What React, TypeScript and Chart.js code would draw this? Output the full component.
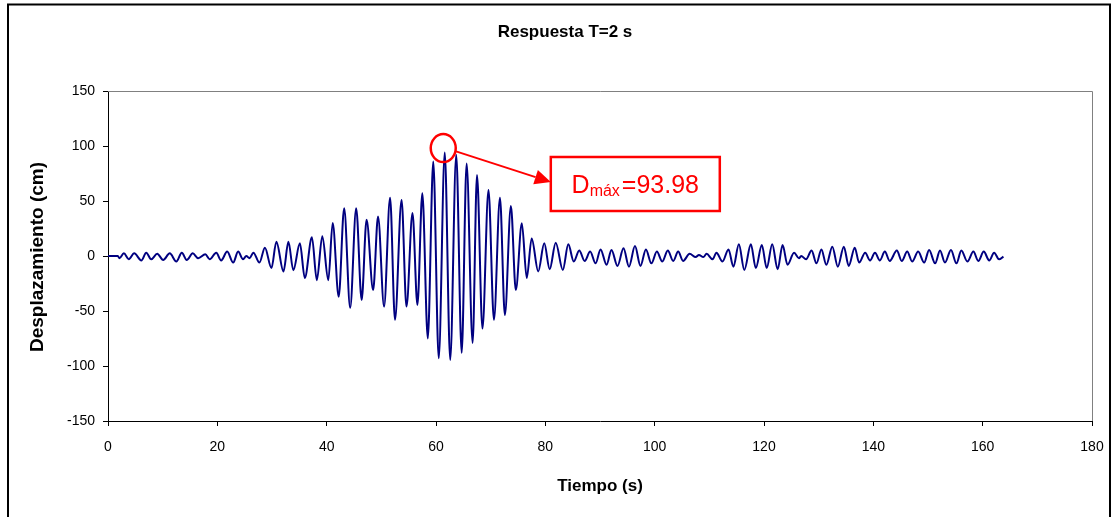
import React, { useEffect, useRef } from "react";
import { Chart, registerables } from "chart.js";

Chart.register(...registerables);

// Time (s) of each turning point
const timeS = [
  0, 1.8, 2.1, 2.9, 3.8, 4.8, 6.1, 7.0, 7.9, 9.0,
  10.1, 11.3, 12.5, 13.5, 14.4, 15.5, 16.5, 17.8, 18.6, 19.8,
  20.7, 21.8, 22.9, 23.8, 24.7, 25.3, 25.9, 26.6, 27.7, 28.7,
  29.9, 30.8, 32.1, 33.0, 33.9, 35.1, 36.0, 37.3, 38.2, 39.2,
  40.3, 41.1, 42.2, 43.2, 44.3, 45.4, 46.4, 47.3, 48.5, 49.4,
  50.5, 51.6, 52.5, 53.7, 54.6, 55.7, 56.6, 57.5, 58.5, 59.5,
  60.5, 61.6, 62.6, 63.7, 64.7, 65.6, 66.7, 67.5, 68.5, 69.6,
  70.6, 71.7, 72.6, 73.7, 74.6, 75.7, 76.6, 77.5, 78.7, 79.8,
  80.8, 81.9, 83.2, 84.2, 85.2, 86.2, 87.2, 88.2, 89.2, 90.1,
  91.2, 92.1, 93.2, 94.3, 95.3, 96.4, 97.4, 98.4, 99.4, 100.4,
  101.4, 102.4, 103.4, 104.3, 105.2, 106.4, 107.5, 108.1, 108.9, 109.5,
  110.6, 111.3, 112.4, 113.5, 114.4, 115.4, 116.4, 117.6, 118.5, 119.6,
  120.5, 121.5, 122.5, 123.4, 124.3, 125.5, 126.4, 126.8, 127.7, 128.7,
  129.6, 130.5, 131.4, 132.5, 133.5, 134.6, 135.5, 136.6, 137.4, 138.5,
  139.4, 140.3, 141.2, 142.1, 143.0, 144.3, 145.2, 146.2, 147.1, 148.2,
  149.3, 150.2, 151.3, 152.2, 153.1, 154.2, 155.2, 156.1, 157.2, 158.3,
  159.2, 160.2, 161.2, 162.1, 163.0, 163.8,
];

// Displacement (cm) at those times
const dispCm = [
  0, 0, -2, 2.4, -3, 2.4, -4, 3, -3, 2,
  -3.6, 2.4, -5, 3, -3.6, 2.4, -2, 1.5, -3, 3,
  -4, 4, -6, 4, -3, 0, -2, 3, -6, 7.6,
  -11, 13, -14, 13, -13, 11.5, -20, 17, -22, 18,
  -22, 30, -37, 43.5, -47, 43.5, -40, 33, -31, 36,
  -46, 53, -58, 51, -46, 39, -44.5, 57, -75, 86,
  -93, 93.98, -94.5, 92, -88, 84, -79, 73.6, -66, 60,
  -58, 53, -53.6, 45.5, -31, 29.7, -20, 16, -14, 11.5,
  -12, 12, -12.7, 10.6, -5, 5, -4.5, 4, -6.7, 6,
  -8, 5.5, -9, 7, -9.7, 9, -9, 6, -6.7, 4,
  -5, 5, -4.5, 4, -4.5, 2, -1, 1, -1, 2,
  -3, 3, -5, 6, -9.7, 10.6, -12.7, 10.6, -11, 10,
  -11, 10.6, -12, 10, -8, 3, -2, 0, -3, 5,
  -6.7, 6, -8, 8.5, -9.7, 8.5, -9, 7.6, -6, 3,
  -4, 3, -4, 4, -4.5, 5, -4.5, 4, -5, 4,
  -6, 5.5, -6.7, 5, -6, 5.5, -6.7, 5, -5, 4,
  -4.5, 4, -4, 3, -3, -0.5,
];

const chartTitle = "Respuesta T=2 s";
const xTitle = "Tiempo (s)";
const yTitle = "Desplazamiento (cm)";
const dMax = "93.98";

const FONT = "'Liberation Sans', Arial, sans-serif";

const decorPlugin = {
  id: "decor",
  beforeDraw(chart: any) {
    const ctx = chart.ctx;
    ctx.save();
    ctx.fillStyle = "#ffffff";
    ctx.fillRect(0, 0, chart.width, chart.height);
    ctx.restore();
  },
  afterDraw(chart: any) {
    const ctx = chart.ctx;
    const { left, right, top, bottom } = chart.chartArea;
    const xs = chart.scales.x;
    const ys = chart.scales.y;
    ctx.save();
    // outer frame
    ctx.strokeStyle = "#000000";
    ctx.lineWidth = 2;
    ctx.strokeRect(8, 4.5, chart.width - 10, chart.height + 10);
    // gray top/right plot border
    ctx.strokeStyle = "#808080";
    ctx.lineWidth = 1;
    ctx.beginPath();
    ctx.moveTo(left, top + 0.5);
    ctx.lineTo(right + 0.5, top + 0.5);
    ctx.lineTo(right + 0.5, bottom);
    ctx.stroke();
    // titles
    ctx.fillStyle = "#000000";
    ctx.textAlign = "center";
    ctx.textBaseline = "middle";
    ctx.font = `bold 17px ${FONT}`;
    ctx.fillText(chartTitle, 565, 32);
    ctx.font = `bold 17px ${FONT}`;
    ctx.fillText(xTitle, (left + right) / 2, 486);
    ctx.save();
    ctx.translate(38, (top + bottom) / 2 + 1);
    ctx.rotate(-Math.PI / 2);
    ctx.font = `bold 19px ${FONT}`;
    ctx.fillText(yTitle, 0, 0);
    ctx.restore();

    // annotation: circle on max, arrow, box
    let mi = 0;
    for (let i = 1; i < dispCm.length; i++) if (dispCm[i] > dispCm[mi]) mi = i;
    const px = xs.getPixelForValue(timeS[mi]);
    const py = ys.getPixelForValue(dispCm[mi]);
    const cx = px - 1.5;
    const cy = py - 4.5;
    ctx.strokeStyle = "#ff0000";
    ctx.fillStyle = "#ff0000";
    ctx.lineWidth = 2.5;
    ctx.beginPath();
    ctx.ellipse(cx, cy, 12.5, 14, 0, 0, Math.PI * 2);
    ctx.stroke();

    const bx = xs.getPixelForValue(81.0);
    const by = ys.getPixelForValue(90);
    const bw = 169;
    const bh = 54;
    ctx.strokeRect(bx, by, bw, bh);

    const sx = cx + 12;
    const sy = cy + 3;
    const tx = bx;
    const ty = by + 25;
    const ang = Math.atan2(ty - sy, tx - sx);
    const ah = 16;
    const aw = 7.5;
    const baseX = tx - ah * Math.cos(ang);
    const baseY = ty - ah * Math.sin(ang);
    ctx.lineWidth = 2;
    ctx.beginPath();
    ctx.moveTo(sx, sy);
    ctx.lineTo(baseX, baseY);
    ctx.stroke();
    ctx.beginPath();
    ctx.moveTo(tx, ty);
    ctx.lineTo(baseX + aw * Math.sin(ang), baseY - aw * Math.cos(ang));
    ctx.lineTo(baseX - aw * Math.sin(ang), baseY + aw * Math.cos(ang));
    ctx.closePath();
    ctx.fill();

    // text D_máx=93.98
    const big = `25px ${FONT}`;
    const small = `16px ${FONT}`;
    ctx.textAlign = "left";
    ctx.textBaseline = "alphabetic";
    ctx.font = big;
    const wD = ctx.measureText("D").width;
    const wRest = ctx.measureText("=" + dMax).width;
    ctx.font = small;
    const wSub = ctx.measureText("máx").width;
    const total = wD + wSub + wRest + 2;
    let x0 = bx + bw / 2 - total / 2;
    const base = by + bh / 2 + 9;
    ctx.font = big;
    ctx.fillText("D", x0, base);
    x0 += wD;
    ctx.font = small;
    ctx.fillText("máx", x0, base + 3);
    x0 += wSub + 2;
    ctx.font = big;
    ctx.fillText("=" + dMax, x0, base);
    ctx.restore();
  },
};

export default function App() {
  const ref = useRef<HTMLCanvasElement | null>(null);
  useEffect(() => {
    document.body.style.margin = "0";
    const canvas = ref.current;
    if (!canvas) return;
    const points = timeS.map((t, i) => ({ x: t, y: dispCm[i] }));
    const chart = new Chart(canvas, {
      type: "scatter",
      data: {
        datasets: [
          {
            data: points,
            showLine: true,
            borderColor: "#000080",
            borderWidth: 2,
            pointRadius: 0,
            cubicInterpolationMode: "monotone",
            fill: false,
          },
        ],
      },
      options: {
        animation: false,
        responsive: false,
        devicePixelRatio: 1,
        layout: { padding: { left: 0, right: 20, top: 91, bottom: 0 } },
        plugins: {
          legend: { display: false },
          tooltip: { enabled: false },
          title: { display: false },
        },
        scales: {
          x: {
            type: "linear",
            min: 0,
            max: 180,
            afterFit(scale: any) {
              scale.height = 96;
              scale.paddingLeft = 0;
              scale.paddingRight = 0;
            },
            ticks: {
              stepSize: 20,
              autoSkip: false,
              maxRotation: 0,
              color: "#000000",
              padding: 13,
              font: { family: FONT, size: 14 },
            },
            grid: {
              drawOnChartArea: false,
              drawTicks: true,
              tickLength: 5,
              tickColor: "#000000",
            },
            border: { display: true, color: "#000000", width: 1 },
          },
          y: {
            type: "linear",
            min: -150,
            max: 150,
            afterFit(scale: any) {
              scale.width = 108;
              scale.paddingTop = 0;
              scale.paddingBottom = 0;
            },
            ticks: {
              stepSize: 50,
              autoSkip: false,
              color: "#000000",
              padding: 8,
              font: { family: FONT, size: 14 },
            },
            grid: {
              drawOnChartArea: false,
              drawTicks: true,
              tickLength: 5,
              tickColor: "#000000",
            },
            border: { display: true, color: "#000000", width: 1 },
          },
        },
      },
      plugins: [decorPlugin],
    } as any);
    return () => chart.destroy();
  }, []);
  return (
    <canvas
      ref={ref}
      width={1112}
      height={517}
      style={{ display: "block", width: 1112, height: 517 }}
    />
  );
}
